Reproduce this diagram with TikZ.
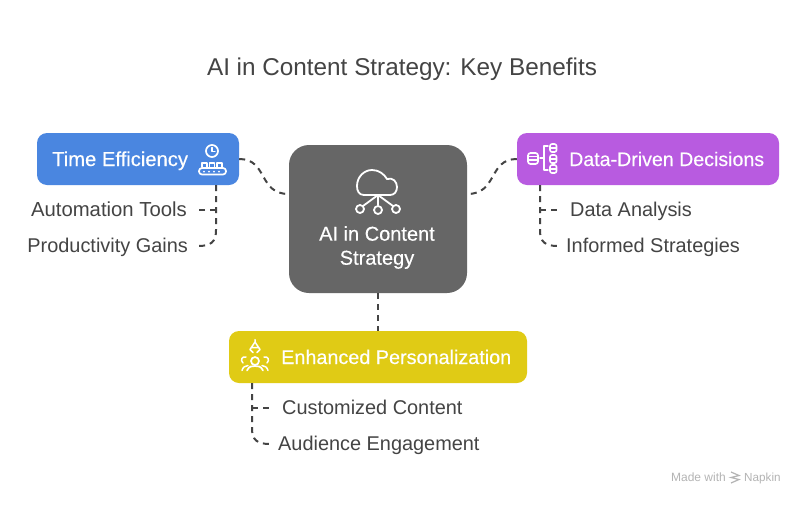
\documentclass[tikz,border=0pt]{standalone}
\usepackage{fontspec}
\setmainfont{Liberation Sans}
\newfontfamily\medfont[FakeBold=0.35]{Liberation Sans}
\definecolor{inkgray}{HTML}{444444}
\definecolor{coregray}{HTML}{666666}
\definecolor{bluebox}{HTML}{4A86E0}
\definecolor{purplebox}{HTML}{B85BE0}
\definecolor{yellowbox}{HTML}{E0CB15}
\definecolor{markgray}{HTML}{B4B4B4}
\tikzset{
  x=1pt,y=-1pt,
  headbox/.style={rounded corners=10pt,inner sep=0pt,text=white,font=\medfont\fontsize{19.6}{24}\selectfont},
  corebox/.style={rounded corners=20pt,fill=coregray,inner sep=0pt,text=white,align=center,font=\medfont\fontsize{20}{24}\selectfont},
  leaflabel/.style={inner sep=0pt,text=inkgray,font=\fontsize{19.9}{22}\selectfont},
  link/.style={draw=inkgray,line width=2pt,dash pattern=on 6pt off 5pt},
  iconline/.style={draw=white,line width=1.7pt,line cap=round,line join=round},
}
\begin{document}
\begin{tikzpicture}
\useasboundingbox (0,0) rectangle (804,504);
\fill[white] (0,0) rectangle (804,504);
\node[inner sep=0pt,anchor=base,text=inkgray,font=\fontsize{24.3}{28}\selectfont] (title) at (402,75) {AI in Content Strategy: Key Benefits};

\node[corebox,minimum width=178pt,minimum height=148pt] (core) at (378,219) {};
\node[inner sep=0pt,text=white,align=center,font=\medfont\fontsize{20}{24}\selectfont] (coretext) at (377,247.5) {AI in Content\\Strategy};

\node[headbox,fill=bluebox,minimum width=202pt,minimum height=52pt] (time) at (138,159) {};
\node[headbox,anchor=base west,font=\medfont\fontsize{20.2}{24}\selectfont] (timetext) at (52,166) {Time Efficiency};
\node[headbox,fill=purplebox,minimum width=262pt,minimum height=52pt] (data) at (648,159) {};
\node[headbox,anchor=base west] (datatext) at (569,166) {Data-Driven Decisions};
\node[headbox,fill=yellowbox,minimum width=298pt,minimum height=52pt] (pers) at (378,357) {};
\node[headbox,anchor=base west,font=\medfont\fontsize{19.8}{24}\selectfont] (perstext) at (281,364) {Enhanced Personalization};

\node[leaflabel,anchor=base east,font=\fontsize{20.3}{22}\selectfont] (auto) at (187,216.5) {Automation Tools};
\node[leaflabel,anchor=base east] (prod) at (188,252.5) {Productivity Gains};
\node[leaflabel,anchor=base west] (anal) at (570,216.5) {Data Analysis};
\node[leaflabel,anchor=base west] (info) at (566,252.5) {Informed Strategies};
\node[leaflabel,anchor=base west] (cust) at (282,414.5) {Customized Content};
\node[leaflabel,anchor=base west] (aud) at (278,450.5) {Audience Engagement};

\coordinate (coreL) at ([yshift=25pt]core.west);
\coordinate (coreR) at ([yshift=25pt]core.east);
\coordinate (timeB) at (216,185);
\coordinate (dataB) at (540,185);
\coordinate (persB) at (252,383);
\coordinate (prodEnd) at (198,246);
\coordinate (autoEnd) at (198,210);
\coordinate (analEnd) at (558,210);
\coordinate (infoEnd) at (558,246);
\coordinate (custEnd) at (270,408);
\coordinate (audEnd) at (270,444);

\draw[link] (time.east) .. controls (268,159) and (258,194) .. (coreL);
\draw[link] (data.west) .. controls (488,159) and (498,194) .. (coreR);
\draw[link] (core.south) -- (pers.north);

\draw[link] (timeB) -- (216,230) .. controls (216,242) and (211,246) .. (prodEnd);
\draw[link] (216,210) -- (autoEnd);
\draw[link] (dataB) -- (540,230) .. controls (540,242) and (545,246) .. (infoEnd);
\draw[link] (540,210) -- (analEnd);
\draw[link] (persB) -- (252,428) .. controls (252,440) and (257,444) .. (audEnd);
\draw[link] (252,408) -- (custEnd);

% cloud icon
\draw[iconline,line width=1.8pt] (364,195) .. controls (359,195) and (357,191) .. (357,186)
  .. controls (357,177) and (364,170) .. (372,170)
  .. controls (379,170) and (384,174) .. (387,179)
  .. controls (393,177) and (397,182) .. (397,187)
  .. controls (397,192) and (394,195) .. (390,195) -- cycle;
\draw[iconline,line width=1.8pt] (378,195) -- (378,205) (378,195) -- (363,206) (378,195) -- (393,206);
\draw[iconline,line width=1.8pt] (360,209) circle[radius=4] (378,210) circle[radius=4] (396,209) circle[radius=4];

% conveyor icon
\draw[iconline] (212,151) circle[radius=6];
\draw[iconline,line width=1.2pt] (212,147.5) -- (212,151.5) -- (215,151.5);
\draw[iconline,line width=1.5pt] (202,167) -- (202,163) -- (207,163) -- (207,167)
  (209.5,167) -- (209.5,163) -- (214.5,163) -- (214.5,167)
  (217,167) -- (217,163) -- (222,163) -- (222,167);
\draw[iconline,rounded corners=3pt] (199,168) rectangle (226,174.5);
\foreach \bx in {204,209,214,219} \fill[white] (\bx,171.5) circle[radius=1];

% data icon
\draw[iconline,rounded corners=2.5pt] (528,153) rectangle (538,164);
\draw[iconline,line width=1.2pt] (528.5,156.5) -- (537.5,156.5) (528.5,160) -- (537.5,160);
\draw[iconline,line width=1.4pt] (540,158) -- (543,158) (548,146) -- (544,146) -- (544,170) -- (548,170);
\foreach \cy in {148,159,169}{
  \draw[iconline,rounded corners=2pt,line width=1.6pt] (550,\cy-4) rectangle (556.5,\cy+4);
  \draw[iconline,line width=1.1pt] (550.5,\cy) -- (556,\cy);
}

% people icon
\draw[iconline,line width=1.5pt] (255,342) -- (250,349.5) -- (253,352.5) (255,342) -- (260,349.5) -- (257,352.5)
  (251,347.5) -- (259,347.5) (255,339.5) -- (255,342);
\draw[iconline] (255,361) circle[radius=4];
\draw[iconline] (247,370.5) .. controls (249,366) and (252,366) .. (255,366)
  .. controls (258,366) and (261,366) .. (263,370.5);
\draw[iconline,line width=1.5pt] (246,357) .. controls (242,356) and (240,360) .. (243,363);
\draw[iconline,line width=1.5pt] (264,357) .. controls (268,356) and (270,360) .. (267,363);
\draw[iconline,line width=1.5pt] (242,370.5) .. controls (243,367) and (245,366) .. (248,365.5);
\draw[iconline,line width=1.5pt] (268,370.5) .. controls (267,367) and (265,366) .. (262,365.5);

% footer
\node[inner sep=0pt,anchor=base east,text=markgray,font=\fontsize{12}{13}\selectfont] (made) at (726,481) {Made with};
\node[inner sep=0pt,anchor=base west,text=markgray,font=\fontsize{11.7}{13}\selectfont] (nap) at (744,481) {Napkin};
\draw[markgray,line width=1.2pt] (731,472) -- (739,475.5) -- (731,477.5) -- (739,479.5) -- (731,483);
\end{tikzpicture}
\end{document}
